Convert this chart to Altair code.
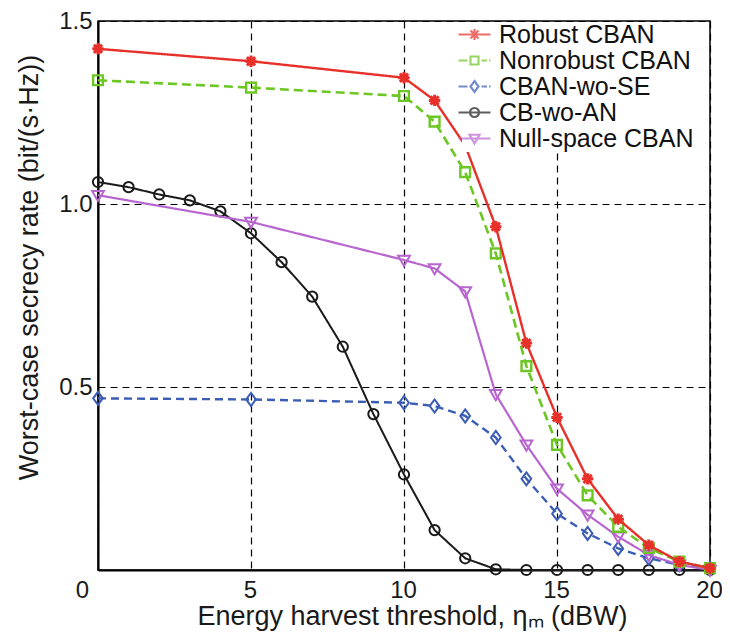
import altair as alt
import pandas as pd

# ---------------- data ----------------
series_names = ["Robust CBAN", "Nonrobust CBAN", "CBAN-wo-SE", "CB-wo-AN", "Null-space CBAN"]

robust_x = [0, 5, 10, 11, 12, 13, 14, 15, 16, 17, 18, 19, 20]
robust_y = [1.424, 1.390, 1.345, 1.283, 1.160, 0.938, 0.620, 0.417, 0.249, 0.139, 0.068, 0.023, 0.005]
robust_marker = [1, 1, 1, 1, 0, 1, 1, 1, 1, 1, 1, 1, 1]

nonrobust_x = [0, 5, 10, 11, 12, 13, 14, 15, 16, 17, 18, 19, 20]
nonrobust_y = [1.338, 1.318, 1.295, 1.225, 1.087, 0.865, 0.557, 0.342, 0.204, 0.118, 0.060, 0.023, 0.005]

wose_x = [0, 5, 10, 11, 12, 13, 14, 15, 16, 17, 18, 19, 20]
wose_y = [0.469, 0.466, 0.457, 0.448, 0.421, 0.362, 0.249, 0.154, 0.100, 0.059, 0.032, 0.014, 0.005]

cbwoan_x = list(range(0, 21))
cbwoan_y = [1.060, 1.046, 1.026, 1.010, 0.980, 0.920, 0.841, 0.747, 0.610, 0.426,
            0.261, 0.109, 0.032, 0.002, 0.0, 0.0, 0.0, 0.0, 0.0, 0.0, 0.0]

null_x = [0, 5, 10, 11, 12, 13, 14, 15, 16, 17, 18, 19, 20]
null_y = [1.024, 0.951, 0.847, 0.824, 0.761, 0.480, 0.342, 0.222, 0.151, 0.091, 0.041, 0.014, 0.0]

x_ticks = [0, 5, 10, 15, 20]
y_ticks = [0.5, 1.0, 1.5]

# ---------------- build table ----------------
rows = []
def add(name, xs, ys, marks=None):
    for i, (xv, yv) in enumerate(zip(xs, ys)):
        rows.append({"series": name, "x": xv, "y": yv,
                     "marker": 1 if marks is None else marks[i]})

add("Robust CBAN", robust_x, robust_y, robust_marker)
add("Nonrobust CBAN", nonrobust_x, nonrobust_y)
add("CBAN-wo-SE", wose_x, wose_y)
add("CB-wo-AN", cbwoan_x, cbwoan_y)
add("Null-space CBAN", null_x, null_y)
df = pd.DataFrame(rows)

FONT = "Liberation Sans"
colors = {
    "Robust CBAN": "#e8302a",
    "Nonrobust CBAN": "#6cc623",
    "CBAN-wo-SE": "#3b5db4",
    "CB-wo-AN": "#1a1a1a",
    "Null-space CBAN": "#b866cf",
}
ASTER = "M0,-1L0,1M-1,0L1,0M-0.72,-0.72L0.72,0.72M-0.72,0.72L0.72,-0.72"
DIAM = "M0,-1.15L0.85,0L0,1.15L-0.85,0Z"
TRI = "M-1,-0.72L1,-0.72L0,1Z"
style = {
    "Robust CBAN": dict(dash=[1, 0], lw=2.4, shape=ASTER, size=130, sw=3.0),
    "Nonrobust CBAN": dict(dash=[9, 5], lw=2.6, shape="square", size=95, sw=2.4),
    "CBAN-wo-SE": dict(dash=[8, 5], lw=2.4, shape=DIAM, size=130, sw=2.0),
    "CB-wo-AN": dict(dash=[1, 0], lw=2.0, shape="circle", size=105, sw=2.0),
    "Null-space CBAN": dict(dash=[1, 0], lw=2.2, shape=TRI, size=140, sw=2.0),
}
legend_paths = [
    "M-3.2,0L3.2,0M0,-1.1L0,1.1M-1.1,0L1.1,0M-0.8,-0.8L0.8,0.8M-0.8,0.8L0.8,-0.8",
    "M-3.2,0L-1.4,0M-0.8,-0.8L0.8,-0.8L0.8,0.8L-0.8,0.8ZM1.4,0L2.5,0M2.9,0L3.2,0",
    "M-3.2,0L-1.4,0M0,-1.1L0.8,0L0,1.1L-0.8,0ZM1.4,0L2.5,0M2.9,0L3.2,0",
    "M-3.2,0L3.2,0M0.9,0A0.9,0.9 0 1,1 -0.9,0A0.9,0.9 0 1,1 0.9,0",
    "M-3.2,0L3.2,0M-1,-0.75L1,-0.75L0,1Z",
]

x_enc = alt.X(
    "x:Q",
    scale=alt.Scale(domain=[0, 20], nice=False, zero=False),
    axis=alt.Axis(
        values=x_ticks, format="d", grid=True, gridDash=[7, 5], gridColor="black",
        gridWidth=1.2, ticks=False, tickSize=0, domainColor="black", domainWidth=2,
        labelFont=FONT, labelFontSize=24, labelColor="#1a1a1a", labelPadding=8,
        labelFlush=False,
        labelOffset={"condition": {"test": "datum.value == 0", "value": -16},
                     "value": -1},
        title="Energy harvest threshold, \u03b7\u2098 (dBW)", titleFont=FONT,
        titleFontSize=27, titleFontWeight="normal", titleColor="#1a1a1a", titlePadding=1,
        titleX=314,
    ),
)
y_enc = alt.Y(
    "y:Q",
    scale=alt.Scale(domain=[0, 1.5], nice=False, zero=False),
    axis=alt.Axis(
        values=y_ticks, format=".1f", grid=True, gridDash=[7, 5], gridColor="black",
        gridWidth=1.2, ticks=False, tickSize=0, domainColor="black", domainWidth=2,
        labelFont=FONT, labelFontSize=24, labelColor="#1a1a1a", labelPadding=6,
        labelFlush=False,
        title="Worst-case secrecy rate (bit/(s\u00b7Hz))", titleFont=FONT,
        titleFontSize=27, titleFontWeight="normal", titleColor="#1a1a1a",
        titlePadding=15, titleY=246,
    ),
)

base = alt.Chart(df)

legend_def = alt.Legend(
    title=None, orient="none", legendX=364, legendY=1, direction="vertical",
    symbolSize=100, symbolStrokeWidth=2.2, symbolOffset=0, labelOffset=12,
    labelFont=FONT, labelFontSize=25, labelColor="#111111", labelLimit=400,
    fillColor="white", padding=0, rowPadding=0,
)
legend_layer = base.transform_filter("datum.y < -10").mark_point(
    filled=False, size=100, strokeWidth=2.2
).encode(
    x=x_enc, y=y_enc,
    color=alt.Color("series:N", scale=alt.Scale(domain=series_names,
                    range=[colors[s] for s in series_names]), legend=legend_def),
    shape=alt.Shape("series:N", scale=alt.Scale(domain=series_names, range=legend_paths),
                    legend=legend_def),
)

layers = [legend_layer]
for name in ["CB-wo-AN", "CBAN-wo-SE", "Null-space CBAN", "Nonrobust CBAN", "Robust CBAN"]:
    st = style[name]
    sub = base.transform_filter(alt.datum.series == name)
    layers.append(sub.mark_line(color=colors[name], strokeWidth=st["lw"],
                                strokeDash=st["dash"]).encode(x=x_enc, y=y_enc, order="x:Q"))
    layers.append(sub.transform_filter("datum.marker == 1").mark_point(
        shape=st["shape"], size=st["size"], filled=False, color=colors[name],
        strokeWidth=st["sw"], opacity=1).encode(x=x_enc, y=y_enc))

chart = alt.layer(*layers).properties(
    width=612, height=549,
    autosize=alt.AutoSizeParams(type="none"),
    padding={"left": 90, "top": 13, "right": 12, "bottom": 68},
    background="white",
).configure_view(stroke="black", strokeWidth=1.5)

chart.save("out.html", embed_options={"renderer": "svg", "actions": False})
